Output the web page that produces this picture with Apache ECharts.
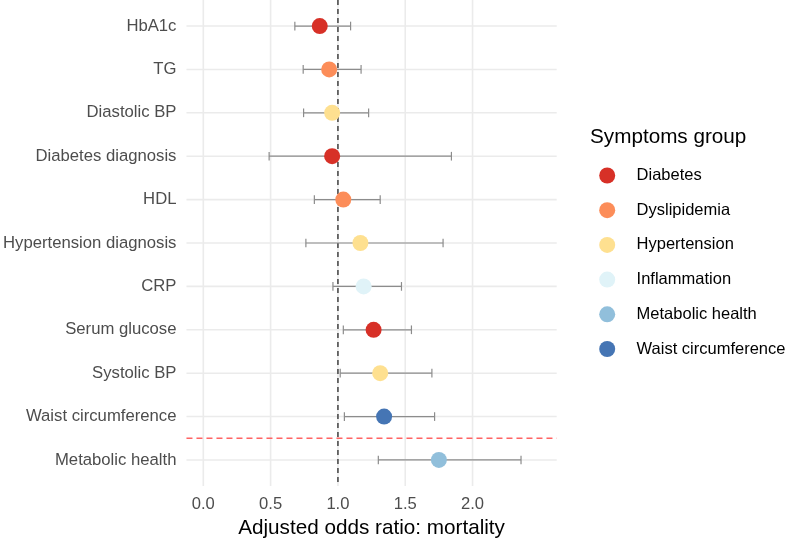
<!DOCTYPE html>
<html>
<head>
<meta charset="utf-8">
<script src="https://cdn.jsdelivr.net/npm/echarts@6/dist/echarts.min.js"></script>
<style>
html,body{margin:0;padding:0;background:#fff;}
#chart{width:787px;height:544px;}
</style>
</head>
<body>
<div id="chart"></div>
<script>
// ---- data ----
const categories = ['HbA1c', 'TG', 'Diastolic BP', 'Diabetes diagnosis', 'HDL', 'Hypertension diagnosis', 'CRP', 'Serum glucose', 'Systolic BP', 'Waist circumference', 'Metabolic health'];
const oddsRatio = [0.865, 0.935, 0.957, 0.957, 1.040, 1.167, 1.191, 1.265, 1.314, 1.343, 1.750];
const ciLower   = [0.680, 0.742, 0.745, 0.489, 0.825, 0.762, 0.963, 1.040, 1.017, 1.048, 1.300];
const ciUpper   = [1.094, 1.172, 1.228, 1.843, 1.314, 1.781, 1.472, 1.546, 1.698, 1.718, 2.360];
const groups = ['Diabetes', 'Dyslipidemia', 'Hypertension', 'Diabetes', 'Dyslipidemia', 'Hypertension', 'Inflammation', 'Diabetes', 'Hypertension', 'Waist circumference', 'Metabolic health'];
const groupNames = ['Diabetes', 'Dyslipidemia', 'Hypertension', 'Inflammation', 'Metabolic health', 'Waist circumference'];
const groupColors = ['#d73027', '#fc8d59', '#fee090', '#e0f3f8', '#91bfdb', '#4575b4'];
const xTicks = [0, 0.5, 1.0, 1.5, 2.0];
const xLimits = [-0.125, 2.625];
const yLimits = [-0.6, 10.6];
const referenceOR = 1;
const separatorPos = 9.5;
const legendTitle = 'Symptoms group';
const xTitle = 'Adjusted odds ratio: mortality';

const rowIdx = categories.map((_, i) => i);
const FONT = 'Liberation Sans, Arial, sans-serif';

const chart = echarts.init(document.getElementById('chart'), null, {renderer: 'canvas'});

const series = [];

// gridlines
series.push({
  type: 'custom', name: 'vgrid', silent: true, z: 1, clip: false,
  data: xTicks.map(v => [v, 0]),
  encode: {x: 0, y: 1},
  renderItem: function (params, api) {
    const cs = params.coordSys;
    const x = api.coord([api.value(0), 0])[0];
    return {type: 'line', shape: {x1: x, y1: cs.y, x2: x, y2: cs.y + cs.height},
      style: {stroke: '#ebebeb', lineWidth: 1.6}};
  }
});
series.push({
  type: 'custom', name: 'hgrid', silent: true, z: 1, clip: false,
  data: rowIdx.map(i => [0, i]),
  encode: {x: 0, y: 1},
  renderItem: function (params, api) {
    const cs = params.coordSys;
    const y = api.coord([0, api.value(1)])[1];
    return {type: 'line', shape: {x1: cs.x, y1: y, x2: cs.x + cs.width, y2: y},
      style: {stroke: '#ebebeb', lineWidth: 1.6}};
  }
});
// reference lines
series.push({
  type: 'custom', name: 'refs', silent: true, z: 2, clip: false,
  data: [[referenceOR, separatorPos]],
  encode: {x: 0, y: 1},
  renderItem: function (params, api) {
    const cs = params.coordSys;
    const p = api.coord([api.value(0), api.value(1)]);
    return {type: 'group', children: [
      {type: 'line', shape: {x1: cs.x, y1: p[1], x2: cs.x + cs.width, y2: p[1]},
        style: {stroke: '#ff6464', lineWidth: 1.4, lineDash: [6, 4]}},
      {type: 'line', shape: {x1: p[0], y1: cs.y, x2: p[0], y2: cs.y + cs.height},
        style: {stroke: '#555555', lineWidth: 1.7, lineDash: [5, 4]}}
    ]};
  }
});
// error bars
series.push({
  type: 'custom', name: 'ci', silent: true, z: 3,
  data: rowIdx.map(i => [ciLower[i], ciUpper[i], i]),
  encode: {x: [0, 1], y: 2},
  renderItem: function (params, api) {
    const i = api.value(2);
    const lo = api.coord([api.value(0), i]);
    const hi = api.coord([api.value(1), i]);
    const cap = Math.abs(api.coord([0, i + 0.1])[1] - lo[1]);
    const st = {stroke: '#8c8c8c', lineWidth: 1.2};
    return {type: 'group', children: [
      {type: 'line', shape: {x1: lo[0], y1: lo[1], x2: hi[0], y2: hi[1]}, style: st},
      {type: 'line', shape: {x1: lo[0], y1: lo[1] - cap, x2: lo[0], y2: lo[1] + cap}, style: st},
      {type: 'line', shape: {x1: hi[0], y1: hi[1] - cap, x2: hi[0], y2: hi[1] + cap}, style: st}
    ]};
  }
});
// points
groupNames.forEach((g, gi) => {
  series.push({
    type: 'scatter', name: g, z: 5,
    symbol: 'circle', symbolSize: 16,
    itemStyle: {color: groupColors[gi], opacity: 1},
    data: rowIdx.filter(i => groups[i] === g).map(i => [oddsRatio[i], i])
  });
});

chart.setOption({
  animation: false,
  textStyle: {fontFamily: FONT},
  title: {
    text: legendTitle, left: 590, top: 127, padding: 0,
    textStyle: {fontFamily: FONT, fontSize: 20.7, fontWeight: 'normal', color: '#000', lineHeight: 21}
  },
  legend: {
    data: groupNames, orient: 'vertical', left: 599.2, top: 167, padding: 0,
    itemWidth: 48.8, itemHeight: 16, itemGap: 17.7, icon: 'circle',
    selectedMode: false,
    textStyle: {fontFamily: FONT, fontSize: 16.5, color: '#000', lineHeight: 17}
  },
  grid: {left: 182.5, right: 230.3, top: 0, bottom: 53.3, containLabel: false},
  xAxis: {
    type: 'value', min: xLimits[0], max: xLimits[1],
    axisLine: {show: false}, axisTick: {show: false}, splitLine: {show: false},
    axisLabel: {customValues: xTicks, formatter: v => Number(v).toFixed(1),
      color: '#4d4d4d', fontSize: 16.6, margin: 10, fontFamily: FONT,
      showMinLabel: true, showMaxLabel: true},
    name: xTitle, nameLocation: 'middle', nameGap: 32,
    nameTextStyle: {color: '#000', fontSize: 20.7, fontFamily: FONT}
  },
  yAxis: {
    type: 'value', inverse: true, min: yLimits[0], max: yLimits[1],
    axisLine: {show: false}, axisTick: {show: false}, splitLine: {show: false},
    axisLabel: {customValues: rowIdx, formatter: v => categories[Math.round(v)],
      color: '#4d4d4d', fontSize: 16.7, margin: 10, fontFamily: FONT,
      showMinLabel: true, showMaxLabel: true}
  },
  series: series
});
</script>
</body>
</html>
